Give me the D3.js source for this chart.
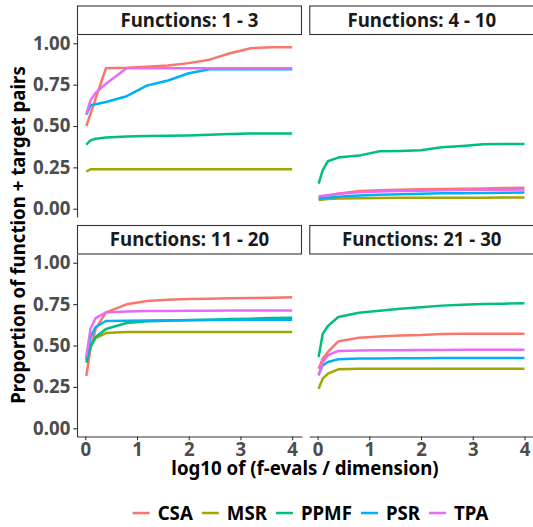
<!DOCTYPE html>
<html>
<head>
<meta charset="utf-8">
<script src="https://cdn.jsdelivr.net/npm/d3@7"></script>
<style>
  body { margin: 0; background: #fff; }
  svg text { font-family: "Noto Sans", sans-serif; font-weight: bold; }
</style>
</head>
<body>
<svg id="chart" width="533" height="527"></svg>
<script>
// data
const xVals = [0.02, 0.1, 0.2, 0.4, 0.8, 1.2, 1.6, 2.0, 2.4, 2.8, 3.2, 3.6, 4.0];
const algorithms = ["CSA", "MSR", "PPMF", "PSR", "TPA"];
const colors = ["#F8766D", "#A3A500", "#00BF7D", "#00B0F6", "#E76BF3"];
const panelTitles = ["Functions: 1 - 3", "Functions: 4 - 10", "Functions: 11 - 20", "Functions: 21 - 30"];
const xTicks = [0, 1, 2, 3, 4];
const yTicks = [0, 0.25, 0.5, 0.75, 1];

// one list per panel, series in algorithm order
const values_1_3 = [
  [0.50, 0.573, 0.665, 0.849, 0.852, 0.858, 0.865, 0.880, 0.901, 0.940, 0.970, 0.976, 0.976],
  [0.225, 0.238, 0.239, 0.239, 0.239, 0.239, 0.239, 0.239, 0.239, 0.239, 0.239, 0.239, 0.239],
  [0.387, 0.413, 0.423, 0.430, 0.437, 0.439, 0.441, 0.443, 0.447, 0.452, 0.454, 0.454, 0.454],
  [0.568, 0.624, 0.632, 0.645, 0.680, 0.745, 0.775, 0.819, 0.843, 0.843, 0.843, 0.843, 0.843],
  [0.570, 0.655, 0.700, 0.755, 0.849, 0.849, 0.849, 0.849, 0.849, 0.849, 0.849, 0.849, 0.849]
];
const values_4_10 = [
  [0.065, 0.070, 0.078, 0.090, 0.107, 0.111, 0.114, 0.117, 0.119, 0.121, 0.123, 0.125, 0.127],
  [0.052, 0.056, 0.059, 0.062, 0.064, 0.065, 0.066, 0.066, 0.067, 0.067, 0.067, 0.068, 0.068],
  [0.152, 0.233, 0.287, 0.309, 0.321, 0.347, 0.349, 0.353, 0.371, 0.379, 0.389, 0.391, 0.391],
  [0.060, 0.063, 0.067, 0.073, 0.080, 0.084, 0.088, 0.091, 0.093, 0.094, 0.095, 0.097, 0.098],
  [0.075, 0.078, 0.082, 0.090, 0.100, 0.104, 0.107, 0.109, 0.111, 0.113, 0.114, 0.115, 0.116]
];
const values_11_20 = [
  [0.316, 0.48, 0.60, 0.70, 0.749, 0.769, 0.777, 0.781, 0.783, 0.785, 0.787, 0.789, 0.791],
  [0.41, 0.50, 0.545, 0.575, 0.581, 0.582, 0.582, 0.582, 0.582, 0.582, 0.582, 0.582, 0.582],
  [0.396, 0.49, 0.551, 0.600, 0.636, 0.646, 0.650, 0.654, 0.656, 0.660, 0.662, 0.666, 0.668],
  [0.42, 0.55, 0.612, 0.648, 0.650, 0.651, 0.652, 0.653, 0.654, 0.654, 0.655, 0.655, 0.656],
  [0.43, 0.60, 0.666, 0.700, 0.706, 0.708, 0.709, 0.710, 0.710, 0.711, 0.711, 0.712, 0.712]
];
const values_21_30 = [
  [0.36, 0.42, 0.461, 0.525, 0.547, 0.555, 0.561, 0.563, 0.569, 0.571, 0.571, 0.571, 0.571],
  [0.239, 0.30, 0.33, 0.356, 0.360, 0.360, 0.360, 0.360, 0.360, 0.360, 0.360, 0.360, 0.360],
  [0.43, 0.571, 0.618, 0.672, 0.698, 0.710, 0.722, 0.731, 0.741, 0.747, 0.751, 0.753, 0.755],
  [0.325, 0.38, 0.40, 0.417, 0.421, 0.422, 0.423, 0.423, 0.424, 0.424, 0.425, 0.425, 0.425],
  [0.318, 0.40, 0.441, 0.467, 0.470, 0.471, 0.472, 0.473, 0.473, 0.474, 0.474, 0.475, 0.475]
];
const panelValues = [values_1_3, values_4_10, values_11_20, values_21_30];

const svg = d3.select("#chart");

const fontSize = "18.67px";
const panelW = 225, panelH = 182, stripH = 29.5;
const panelX = [77, 309.3];
const stripY = [5.5, 225];
const darkLine = "#333333";
const tickGrey = "#4D4D4D";

const x = d3.scaleLinear().domain([-0.16, 4.19]).range([0, panelW]);
const y = d3.scaleLinear().domain([-0.05, 1.05]).range([panelH, 0]);

const line = d3.line()
  .x((d, i) => x(xVals[i]))
  .y(d => y(d));

panelTitles.forEach(function(title, p) {
  const col = p % 2, row = Math.floor(p / 2);
  const px = panelX[col], sy = stripY[row], py = sy + stripH;

  // strip
  const strip = svg.append("g").attr("transform", `translate(${px},${sy})`);
  strip.append("rect")
    .attr("x", 0.5).attr("y", 0.5)
    .attr("width", panelW - 1).attr("height", stripH - 1)
    .attr("fill", "#fff")
    .attr("stroke", darkLine)
    .attr("stroke-width", 1.1);
  strip.append("text")
    .attr("x", panelW / 2)
    .attr("y", stripH / 2)
    .attr("dy", "0.36em")
    .attr("text-anchor", "middle")
    .attr("font-size", fontSize)
    .attr("fill", "#1a1a1a")
    .text(title);

  const g = svg.append("g").attr("transform", `translate(${px},${py})`);

  // series lines
  panelValues[p].forEach(function(series, k) {
    g.append("path")
      .datum(series)
      .attr("d", line)
      .attr("fill", "none")
      .attr("stroke", colors[k])
      .attr("stroke-width", 2.5)
      .attr("stroke-linejoin", "round")
      .attr("stroke-linecap", "butt");
  });

  // y axis only on left column
  if (col == 0) {
    const ay = g.append("g")
      .call(d3.axisLeft(y).tickValues(yTicks).tickFormat(d3.format(".2f"))
        .tickSize(3.7).tickSizeOuter(0).tickPadding(3));
    ay.select(".domain").attr("stroke", darkLine).attr("stroke-width", 1.1);
    ay.selectAll(".tick line").attr("stroke", darkLine).attr("stroke-width", 1.1);
    ay.selectAll(".tick text")
      .attr("font-size", fontSize)
      .attr("font-family", "Noto Sans, sans-serif")
      .attr("fill", tickGrey);
  }
  // x axis only on bottom row
  if (row == 1) {
    const ax = g.append("g")
      .attr("transform", `translate(0,${panelH})`)
      .call(d3.axisBottom(x).tickValues(xTicks).tickFormat(d3.format("d"))
        .tickSize(3.7).tickSizeOuter(0).tickPadding(3));
    ax.select(".domain").attr("stroke", darkLine).attr("stroke-width", 1.1);
    ax.selectAll(".tick line").attr("stroke", darkLine).attr("stroke-width", 1.1);
    ax.selectAll(".tick text")
      .attr("font-size", fontSize)
      .attr("font-family", "Noto Sans, sans-serif")
      .attr("fill", tickGrey);
  }
});

// axis titles
svg.append("text")
  .attr("transform", "translate(25,235) rotate(-90)")
  .attr("text-anchor", "middle")
  .attr("font-size", fontSize)
  .attr("fill", "#000")
  .text("Proportion of function + target pairs");

svg.append("text")
  .attr("x", 305)
  .attr("y", 475)
  .attr("text-anchor", "middle")
  .attr("font-size", fontSize)
  .attr("fill", "#000")
  .text("log10 of (f-evals / dimension)");

// legend
const legend = svg.append("g");
const keyW = 17, legendY = 513;
let cursor = 0;
algorithms.forEach(function(name, k) {
  legend.append("line")
    .attr("x1", cursor).attr("x2", cursor + keyW)
    .attr("y1", legendY).attr("y2", legendY)
    .attr("stroke", colors[k])
    .attr("stroke-width", 2.5);
  const t = legend.append("text")
    .attr("x", cursor + keyW + 8)
    .attr("y", legendY)
    .attr("dy", "0.36em")
    .attr("font-size", fontSize)
    .attr("fill", "#000")
    .text(name);
  cursor = cursor + keyW + 8 + t.node().getComputedTextLength() + 9;
});
const legendW = cursor - 9;
legend.attr("transform", `translate(${310.5 - legendW / 2},0)`);
</script>
</body>
</html>
